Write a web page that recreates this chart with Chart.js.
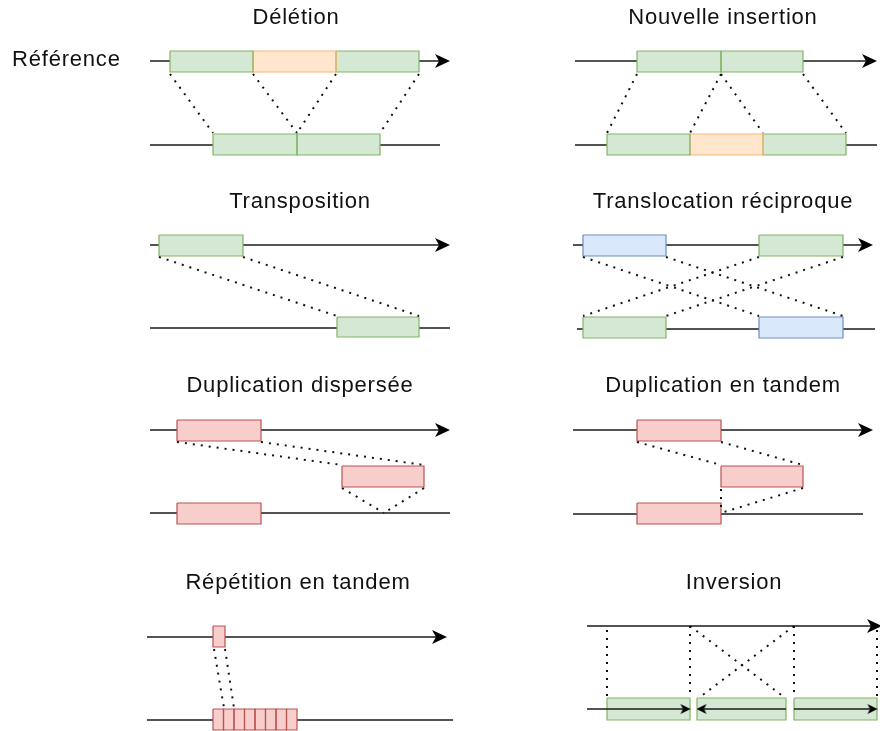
<!DOCTYPE html>
<html>
<head>
<meta charset="utf-8">
<title>Variants structuraux</title>
<script src="https://cdn.jsdelivr.net/npm/chart.js@4.4.1/dist/chart.umd.min.js"></script>
<style>
  html, body { margin: 0; padding: 0; background: #fff; }
  #wrap { width: 880px; height: 731px; position: relative; }
</style>
</head>
<body>
<div id="wrap"><canvas id="sv"></canvas></div>
<script>
/* Diagram of structural variants, drawn on a 880 x 731 unit plane */

// panel titles and their anchor (centre x, middle y)
const titles      = ['Délétion', 'Nouvelle insertion', 'Transposition', 'Translocation réciproque',
                     'Duplication dispersée', 'Duplication en tandem', 'Répétition en tandem', 'Inversion'];
const titleCentre = [[296, 18], [723, 18], [300, 202], [723, 202],
                     [300, 386], [723, 386], [298, 583], [734, 583]];
const sideLabel   = ['Référence', 12, 60];

// chromosome backbones: [x from, x to, y, head at "to" end (1) or none (0)]
const backbones = [
  [150, 439, 61, 1], [150, 440, 145, 0],
  [575, 866, 61, 1], [575, 877, 145, 0],
  [150, 439, 245, 1], [150, 450, 328, 0],
  [573, 862, 245, 1], [577, 875, 329, 0],
  [150, 439, 430, 1], [150, 450, 513, 0],
  [573, 862, 430, 1], [573, 863, 514, 0],
  [147, 436, 637, 1], [147, 453, 720, 0],
  [587, 871, 626, 1]
];

// orientation arrows of the inverted chromosome: [x from, x to, y]
const strands = [
  [587, 683, 709], [786, 704, 709], [794, 870, 709]
];

// segments: [x1, x2, y top, y bottom, kind]
const segments = [
  // délétion
  [170, 253, 51, 72, 'keep'], [253, 336, 51, 72, 'indel'], [336, 419, 51, 72, 'keep'],
  [213, 297, 134, 155, 'keep'], [297, 380, 134, 155, 'keep'],
  // nouvelle insertion
  [637, 721, 51, 72, 'keep'], [721, 803, 51, 72, 'keep'],
  [607, 690, 134, 155, 'keep'], [690, 763, 134, 155, 'indel'], [763, 846, 134, 155, 'keep'],
  // transposition
  [159, 243, 235, 256, 'keep'], [337, 419, 317, 337, 'keep'],
  // translocation réciproque
  [583, 666, 235, 256, 'swap'], [759, 843, 235, 256, 'keep'],
  [583, 666, 317, 338, 'keep'], [759, 843, 317, 338, 'swap'],
  // duplication dispersée
  [177, 261, 420, 441, 'copy'], [342, 424, 466, 487, 'copy'], [177, 261, 503, 524, 'copy'],
  // duplication en tandem
  [637, 721, 420, 441, 'copy'], [721, 803, 466, 487, 'copy'], [637, 721, 503, 524, 'copy'],
  // répétition en tandem
  [213, 225, 626, 647, 'copy'],
  [213, 223.5, 709, 730, 'copy'], [223.5, 234, 709, 730, 'copy'], [234, 244.5, 709, 730, 'copy'],
  [244.5, 255, 709, 730, 'copy'], [255, 265.5, 709, 730, 'copy'], [265.5, 276, 709, 730, 'copy'],
  [276, 286.5, 709, 730, 'copy'], [286.5, 297, 709, 730, 'copy'],
  // inversion
  [607, 690, 698, 720, 'keep'], [697, 786, 698, 720, 'keep'], [794, 877, 698, 720, 'keep']
];

// dotted correspondences: [x1, y1, x2, y2]
const links = [
  [170, 74, 213, 133], [253, 74, 297, 133], [336, 74, 297, 133], [419, 74, 380, 133],
  [637, 74, 607, 133], [721, 74, 690, 133], [721, 74, 763, 133], [803, 74, 846, 133],
  [159, 257, 337, 316], [243, 257, 419, 316],
  [583, 257, 759, 316], [666, 257, 843, 316], [759, 257, 583, 316], [843, 257, 666, 316],
  [177, 442, 342, 465], [261, 442, 424, 465], [342, 488, 384, 513], [424, 488, 384, 513],
  [637, 442, 721, 465], [721, 442, 803, 465], [721, 489, 721, 512], [803, 488, 721, 513],
  [214, 649, 224, 708], [225, 649, 234, 708],
  [607, 630, 607, 697], [690, 626, 690, 697], [794, 626, 794, 697], [877, 630, 877, 697],
  [690, 626, 784, 697], [794, 626, 700, 697]
];

const palette = {
  keep:  { fill: '#d5e8d4', stroke: '#82b366' },
  indel: { fill: '#ffe6cc', stroke: '#ffb570' },
  swap:  { fill: '#dae8fc', stroke: '#6c8ebf' },
  copy:  { fill: '#f8cecc', stroke: '#b85450' }
};
const FONT = '22px "Liberation Sans", Arial, sans-serif';

// notched arrow head pointing right; the canvas centre sits on the notch
function arrowHead(len, half, notch) {
  const w = 2 * (len - notch);
  const c = document.createElement('canvas');
  c.width = w;
  c.height = half * 2 + 2;
  const g = c.getContext('2d');
  const cy = c.height / 2;
  const back = w - len;
  g.fillStyle = '#000';
  g.beginPath();
  g.moveTo(w, cy);
  g.lineTo(back, cy - half);
  g.lineTo(back + notch, cy);
  g.lineTo(back, cy + half);
  g.closePath();
  g.fill();
  return c;
}
const bigHead   = arrowHead(15, 7, 4);
const smallHead = arrowHead(10, 5, 2.5);

function arrowLine(x1, x2, y, head, order) {
  return {
    data: [{ x: x1, y }, { x: x2, y }],
    borderColor: '#1a1a1a',
    borderWidth: 1.3,
    pointRadius: [0, head ? 5 : 0],
    pointStyle: head || 'circle',
    pointRotation: x2 > x1 ? 0 : 180,
    fill: false,
    order
  };
}

function buildDatasets() {
  const sets = [];

  backbones.forEach(([x1, x2, y, head]) => sets.push(arrowLine(x1, x2, y, head ? bigHead : null, 4)));
  strands.forEach(([x1, x2, y]) => sets.push(arrowLine(x1, x2, y, smallHead, 0)));

  segments.forEach(([x1, x2, y1, y2, kind]) => {
    const c = palette[kind];
    sets.push({
      data: [{ x: x1, y: y1 }, { x: x2, y: y1 }],
      borderWidth: 0,
      borderColor: 'rgba(0,0,0,0)',
      backgroundColor: c.fill,
      fill: { value: y2 },
      order: 3
    });
    sets.push({
      data: [{ x: x1, y: y1 }, { x: x2, y: y1 }, { x: x2, y: y2 }, { x: x1, y: y2 }, { x: x1, y: y1 }],
      borderColor: c.stroke,
      borderWidth: 1.2,
      borderJoinStyle: 'miter',
      fill: false,
      order: 2
    });
  });

  links.forEach(([x1, y1, x2, y2]) => {
    sets.push({
      data: [{ x: x1, y: y1 }, { x: x2, y: y2 }],
      borderColor: '#111',
      borderWidth: 2,
      borderDash: [2, 6],
      fill: false,
      order: 1
    });
  });

  return sets;
}

const labelPlugin = {
  id: 'svLabels',
  afterDraw(chart) {
    const { ctx, scales: { x, y } } = chart;
    ctx.save();
    ctx.font = FONT;
    ctx.letterSpacing = '0.8px';
    ctx.fillStyle = '#111';
    ctx.textBaseline = 'middle';
    ctx.textAlign = 'center';
    titles.forEach((t, i) => {
      const [cx, cy] = titleCentre[i];
      ctx.fillText(t, x.getPixelForValue(cx), y.getPixelForValue(cy));
    });
    ctx.textAlign = 'left';
    ctx.fillText(sideLabel[0], x.getPixelForValue(sideLabel[1]), y.getPixelForValue(sideLabel[2]));
    ctx.restore();
  }
};

new Chart(document.getElementById('sv'), {
  type: 'line',
  data: { datasets: buildDatasets() },
  options: {
    responsive: true,
    maintainAspectRatio: false,
    animation: false,
    events: [],
    layout: { padding: 0, autoPadding: false },
    elements: { point: { radius: 0, hoverRadius: 0 }, line: { tension: 0 } },
    plugins: { legend: { display: false }, tooltip: { enabled: false } },
    scales: {
      x: { type: 'linear', min: 0, max: 880, display: false },
      y: { type: 'linear', min: 0, max: 731, reverse: true, display: false }
    }
  },
  plugins: [labelPlugin]
});
</script>
</body>
</html>
